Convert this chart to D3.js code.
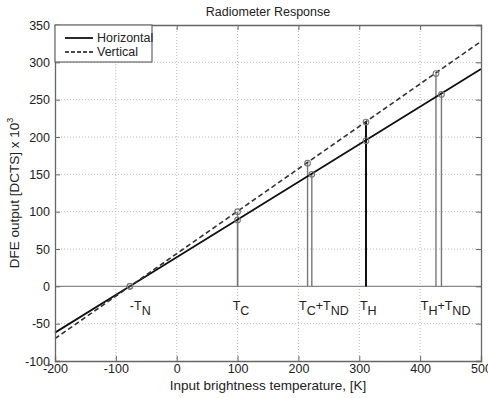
<!DOCTYPE html>
<html><head><meta charset="utf-8">
<script src="https://cdn.jsdelivr.net/npm/d3@7"></script>
<style>body{margin:0;background:#fff}svg{font-family:"Liberation Sans",Arial,sans-serif}</style>
</head><body><svg id="c" width="488" height="398"></svg>
<script>
const xTicks = [-200,-100,0,100,200,300,400,500];
const yTicks = [-100,-50,0,50,100,150,200,250,300,350];
const lineX = [-200, -77, 500];
const horizY = [-62, 0, 291];
const vertY = [-70, 0, 328];
const horizMarkX = [-77, 100, 222, 311, 435];
const horizMarkY = [0, 89, 150, 195, 257];
const vertMarkX = [-77, 100, 215, 311, 426];
const vertMarkY = [0, 100, 165, 220, 285];
const labels = [
  {main:"-T", sub:"N", x:-77},
  {main:"T", sub:"C", x:92},
  {main:"T", sub:"C", main2:"+T", sub2:"ND", x:201},
  {main:"T", sub:"H", x:301},
  {main:"T", sub:"H", main2:"+T", sub2:"ND", x:401}
];
const seriesNames = ["Horizontal","Vertical"];

const svg = d3.select("#c");
const L=55,R=481,T=25,B=361;
const x = d3.scaleLinear().domain([-200,500]).range([L,R]);
const y = d3.scaleLinear().domain([-100,350]).range([B,T]);
const fmt = d => String(d);

// grid
const g = svg.append("g");
g.selectAll(".gx").data(xTicks.slice(1,-1)).join("line")
 .attr("x1",d=>x(d)).attr("x2",d=>x(d)).attr("y1",T).attr("y2",B)
 .attr("stroke","#bbb").attr("stroke-width",1).attr("stroke-dasharray","1,2");
g.selectAll(".gy").data(yTicks.slice(1,-1).filter(d=>d!==0)).join("line")
 .attr("y1",d=>y(d)).attr("y2",d=>y(d)).attr("x1",L).attr("x2",R)
 .attr("stroke","#bbb").attr("stroke-width",1).attr("stroke-dasharray","1,2");
// zero line
g.append("line").attr("x1",L).attr("x2",R).attr("y1",y(0)).attr("y2",y(0))
 .attr("stroke","#888").attr("stroke-width",1.2);

// stems
const stems = [];
horizMarkX.forEach((d,i)=>{ if(horizMarkY[i]!==0) stems.push({x:d,y:horizMarkY[i]}); });
vertMarkX.forEach((d,i)=>{ if(vertMarkY[i]!==0) stems.push({x:d,y:vertMarkY[i]}); });
g.selectAll(".stem").data(stems).join("line")
 .attr("x1",d=>x(d.x)).attr("x2",d=>x(d.x)).attr("y1",y(0)).attr("y2",d=>y(d.y))
 .attr("stroke",d=>d.x===311?"#111":"#777").attr("stroke-width",d=>d.x===311?2:1.4);

// lines
const line = d3.line().x(d=>x(d[0])).y(d=>y(d[1]));
svg.append("path").datum(lineX.map((d,i)=>[d,horizY[i]])).attr("d",line)
 .attr("fill","none").attr("stroke","#111").attr("stroke-width",1.8);
svg.append("path").datum(lineX.map((d,i)=>[d,vertY[i]])).attr("d",line)
 .attr("fill","none").attr("stroke","#333").attr("stroke-width",1.6).attr("stroke-dasharray","5,3");

// markers
const marks = horizMarkX.map((d,i)=>({x:d,y:horizMarkY[i]})).concat(vertMarkX.map((d,i)=>({x:d,y:vertMarkY[i]})));
svg.selectAll(".mk").data(marks).join("circle")
 .attr("cx",d=>x(d.x)).attr("cy",d=>y(d.y)).attr("r",2.8)
 .attr("fill","none").attr("stroke","#777").attr("stroke-width",1.1);

// axes box
const xa = svg.append("g").attr("transform",`translate(0,${B})`)
 .call(d3.axisBottom(x).tickValues(xTicks).tickSize(-5).tickPadding(4).tickFormat(fmt));
const xt = svg.append("g").attr("transform",`translate(0,${T})`)
 .call(d3.axisTop(x).tickValues(xTicks).tickSize(-5).tickFormat(""));
const ya = svg.append("g").attr("transform",`translate(${L},0)`)
 .call(d3.axisLeft(y).tickValues(yTicks).tickSize(-5).tickPadding(5).tickFormat(fmt));
const yr = svg.append("g").attr("transform",`translate(${R},0)`)
 .call(d3.axisRight(y).tickValues(yTicks).tickSize(-5).tickFormat(""));
[xa,xt,ya,yr].forEach(a=>{
  a.selectAll(".domain").attr("stroke","#666").attr("stroke-width",1.3);
  a.selectAll(".tick line").attr("stroke","#666");
  a.selectAll("text").attr("font-size",12.5).attr("fill","#222").attr("font-family","Liberation Sans, Arial, sans-serif");
});
xa.selectAll("text").attr("dy","0.6em");

// annotations
labels.forEach(l=>{
  const t = svg.append("text").attr("x",x(l.x)).attr("y",310).attr("font-size",12.5).attr("fill","#222");
  t.append("tspan").text(l.main);
  t.append("tspan").attr("dy",5).text(l.sub);
  if(l.main2){
    t.append("tspan").attr("dy",-5).text(l.main2);
    t.append("tspan").attr("dy",5).text(l.sub2);
  }
});

// title & labels
svg.append("text").attr("x",268).attr("y",16).attr("text-anchor","middle").attr("font-size",12.5).attr("fill","#222").text("Radiometer Response");
svg.append("text").attr("x",268).attr("y",390).attr("text-anchor","middle").attr("font-size",13.5).attr("fill","#222").text("Input brightness temperature, [K]");
const yl = svg.append("text").attr("transform","translate(19,193) rotate(-90)").attr("text-anchor","middle").attr("font-size",13.5).attr("fill","#222");
yl.append("tspan").text("DFE output [DCTS] x 10");
yl.append("tspan").attr("dy",-6).attr("font-size",9).text("3");

// legend
const lg = svg.append("g");
lg.append("rect").attr("x",L).attr("y",T).attr("width",97).attr("height",37).attr("fill","#fff").attr("stroke","#666").attr("stroke-width",1.2);
seriesNames.forEach((n,i)=>{
  const yy = T+13+i*14;
  lg.append("line").attr("x1",L+10).attr("x2",L+38).attr("y1",yy).attr("y2",yy)
   .attr("stroke","#111").attr("stroke-width",i?1.4:1.8).attr("stroke-dasharray",i?"4,2":null);
  lg.append("text").attr("x",L+42).attr("y",yy+4).attr("font-size",12.5).attr("fill","#222").text(n);
});
</script></body></html>
